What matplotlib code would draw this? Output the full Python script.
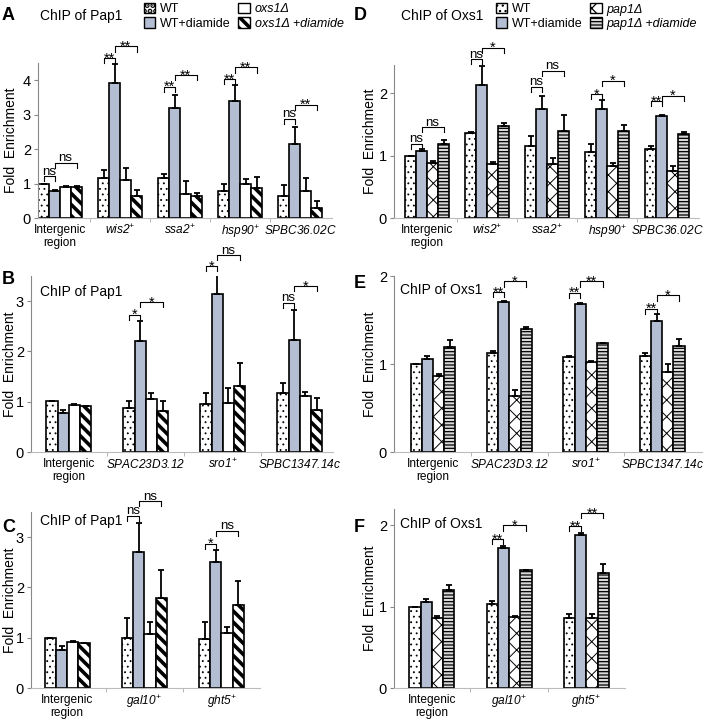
import numpy as np
import matplotlib
matplotlib.use('Agg')
import matplotlib.pyplot as plt
from matplotlib.patches import Patch

plt.rcParams['font.family'] = ['Liberation Sans', 'DejaVu Sans']
plt.rcParams['mathtext.fontset'] = 'custom'
plt.rcParams['mathtext.rm'] = 'Liberation Sans:italic'
plt.rcParams['mathtext.it'] = 'Liberation Sans:italic'
plt.rcParams['font.size'] = 9.5


def gene(name, plus=True):
    if plus:
        return r'$\mathit{' + name + r'}^{+}$'
    return r'$\mathit{' + name + r'}$'


# ---- panel A : ChIP of Pap1 ----
a_labels = ['Intergenic\nregion', gene('wis2'), gene('ssa2'), gene('hsp90'), gene('SPBC36.02C', False)]
a_wt = [1.0, 1.16, 1.16, 0.79, 0.64]
a_wt_err = [0.0, 0.22, 0.12, 0.21, 0.32]
a_wtd = [0.77, 3.91, 3.20, 3.41, 2.14]
a_wtd_err = [0.05, 0.56, 0.37, 0.44, 0.51]
a_mut = [0.90, 1.10, 0.69, 1.00, 0.79]
a_mut_err = [0.02, 0.36, 0.39, 0.13, 0.36]
a_mutd = [0.90, 0.64, 0.64, 0.88, 0.28]
a_mutd_err = [0.02, 0.18, 0.10, 0.30, 0.21]
a_sig = [(0, 0, 1, 1.21, 'ns'), (0, 1, 3, 1.60, 'ns'),
         (1, 0, 1, 4.64, '**'), (1, 1, 3, 4.98, '**'),
         (2, 0, 1, 3.81, '**'), (2, 1, 3, 4.15, '**'),
         (3, 0, 1, 4.03, '**'), (3, 1, 3, 4.37, '**'),
         (4, 0, 1, 2.88, 'ns'), (4, 1, 3, 3.29, '**')]

# ---- panel B : ChIP of Pap1 ----
b_labels = ['Intergenic\nregion', gene('SPAC23D3.12', False), gene('sro1'), gene('SPBC1347.14c', False)]
b_wt = [1.02, 0.87, 0.95, 1.18]
b_wt_err = [0.0, 0.15, 0.23, 0.20]
b_wtd = [0.77, 2.20, 3.15, 2.23]
b_wtd_err = [0.06, 0.40, 0.40, 0.60]
b_mut = [0.93, 1.05, 0.97, 1.11]
b_mut_err = [0.03, 0.13, 0.31, 0.09]
b_mutd = [0.92, 0.82, 1.31, 0.83]
b_mutd_err = [0.0, 0.20, 0.46, 0.24]
b_sig = [(1, 0, 1, 2.73, '*'), (1, 1, 3, 2.98, '*'),
         (2, 0, 1, 3.69, '*'), (2, 1, 3, 3.91, 'ns'),
         (3, 0, 1, 2.97, 'ns'), (3, 1, 3, 3.30, '*')]

# ---- panel C : ChIP of Pap1 ----
c_labels = ['Intergenic\nregion', gene('gal10'), gene('ght5')]
c_wt = [1.0, 1.0, 0.98]
c_wt_err = [0.0, 0.40, 0.34]
c_wtd = [0.76, 2.70, 2.50]
c_wtd_err = [0.08, 0.58, 0.25]
c_mut = [0.91, 1.07, 1.10]
c_mut_err = [0.03, 0.25, 0.12]
c_mutd = [0.90, 1.78, 1.65]
c_mutd_err = [0.0, 0.57, 0.48]
c_sig = [(1, 0, 1, 3.43, 'ns'), (1, 1, 3, 3.71, 'ns'),
         (2, 0, 1, 2.87, '*'), (2, 1, 3, 3.13, 'ns')]

# ---- panel D : ChIP of Oxs1 ----
d_labels = a_labels
d_wt = [1.0, 1.36, 1.15, 1.05, 1.11]
d_wt_err = [0.0, 0.01, 0.16, 0.13, 0.04]
d_wtd = [1.07, 2.13, 1.75, 1.75, 1.64]
d_wtd_err = [0.03, 0.30, 0.21, 0.14, 0.01]
d_mut = [0.88, 0.86, 0.87, 0.83, 0.75]
d_mut_err = [0.03, 0.03, 0.09, 0.05, 0.09]
d_mutd = [1.19, 1.48, 1.40, 1.39, 1.34]
d_mutd_err = [0.06, 0.04, 0.25, 0.10, 0.04]
d_sig = [(0, 0, 1, 1.19, 'ns'), (0, 1, 3, 1.45, 'ns'),
         (1, 0, 1, 2.54, 'ns'), (1, 1, 3, 2.73, '*'),
         (2, 0, 1, 2.10, 'ns'), (2, 1, 3, 2.36, 'ns'),
         (3, 0, 1, 1.98, '*'), (3, 1, 3, 2.20, '*'),
         (4, 0, 1, 1.87, '**'), (4, 1, 3, 1.96, '*')]

# ---- panel E : ChIP of Oxs1 ----
e_labels = b_labels
e_wt = [1.0, 1.12, 1.08, 1.09]
e_wt_err = [0.0, 0.03, 0.01, 0.04]
e_wtd = [1.06, 1.70, 1.68, 1.49]
e_wtd_err = [0.03, 0.02, 0.01, 0.08]
e_mut = [0.86, 0.64, 1.02, 0.91]
e_mut_err = [0.03, 0.06, 0.01, 0.09]
e_mutd = [1.19, 1.40, 1.24, 1.21]
e_mutd_err = [0.08, 0.02, 0.0, 0.07]
e_sig = [(1, 0, 1, 1.82, '**'), (1, 1, 3, 1.94, '*'),
         (2, 0, 1, 1.81, '**'), (2, 1, 3, 1.94, '**'),
         (3, 0, 1, 1.63, '**'), (3, 1, 3, 1.78, '*')]

# ---- panel F : ChIP of Oxs1 ----
f_labels = ['Integenic\nregion', gene('gal10'), gene('ght5')]
f_wt = [1.0, 1.03, 0.86]
f_wt_err = [0.0, 0.04, 0.05]
f_wtd = [1.06, 1.72, 1.88]
f_wtd_err = [0.04, 0.03, 0.02]
f_mut = [0.86, 0.87, 0.86]
f_mut_err = [0.03, 0.02, 0.05]
f_mutd = [1.20, 1.45, 1.41]
f_mutd_err = [0.07, 0.0, 0.12]
f_sig = [(1, 0, 1, 1.83, '**'), (1, 1, 3, 2.00, '*'),
         (2, 0, 1, 1.99, '**'), (2, 1, 3, 2.15, '**')]

# bar styles: (facecolor, hatch, hatch linewidth)
st_wt = ('white', '...', 0.6)
st_wtd = ('#b3bed3', '', 1.0)
st_oxs = ('white', '', 1.0)
st_oxsd = ('white', '\\\\\\', 2.6)
st_pap = ('white', 'xx', 0.7)
st_papd = ('#d8d8d8', '-----', 0.9)

W, H = 704, 727
fig = plt.figure(figsize=(W / 100, H / 100), dpi=100)


def px(x0, y0, x1, y1):
    return [x0 / W, 1 - y1 / H, (x1 - x0) / W, (y1 - y0) / H]


def panel(rect, labels, series, errs, styles, xlim, ylim, yticks, width, sig, tick_h, ylab_x):
    ax = fig.add_axes(rect)
    n = len(labels)
    x = np.arange(n)
    for k in range(4):
        fc, hatch, hlw = styles[k]
        plt.rcParams['hatch.linewidth'] = hlw
        xs = x + (k - 1.5) * width
        ax.bar(xs, series[k], width, color=fc, edgecolor='black', hatch=hatch,
               linewidth=1.2, zorder=2)
        ax.errorbar(xs, series[k], yerr=[np.zeros(n), errs[k]], fmt='none',
                    ecolor='black', elinewidth=1.3, capsize=2, capthick=1.3, zorder=3)
    for g, i, j, y, txt in sig:
        x1 = g + (i - 1.5) * width
        x2 = g + (j - 1.5) * width
        ax.plot([x1, x1, x2, x2], [y - tick_h, y, y, y - tick_h], color='black',
                lw=0.8, clip_on=False)
        if txt == 'ns':
            ax.annotate(txt, ((x1 + x2) / 2, y), xytext=(0, 1.2), textcoords='offset points',
                        ha='center', va='baseline', fontsize=9.5, annotation_clip=False)
        else:
            ax.annotate(txt, ((x1 + x2) / 2, y), xytext=(0, -3.2), textcoords='offset points',
                        ha='center', va='baseline', fontsize=10.5, annotation_clip=False)
    ax.set_xlim(*xlim)
    ax.set_ylim(*ylim)
    ax.set_yticks(yticks)
    ax.set_xticks(x)
    ax.set_xticklabels(labels, fontsize=8.6)
    ax.set_xticks(np.arange(n - 1) + 0.5, minor=True)
    ax.tick_params(axis='x', which='major', length=0, pad=4)
    ax.tick_params(axis='x', which='minor', length=3, color='#aaaaaa')
    ax.tick_params(axis='y', length=3, color='#888888', pad=2, labelsize=10.5)
    for s in ['top', 'right']:
        ax.spines[s].set_visible(False)
    ax.spines['left'].set_color('#888888')
    ax.spines['bottom'].set_color('#bbbbbb')
    ax.set_ylabel('Fold  Enrichment', fontsize=10)
    # place label so that its right edge sits at ylab_x pixels
    ax.yaxis.set_label_coords((ylab_x / W - rect[0]) / rect[2], 0.5)
    return ax


pap1_styles = [st_wt, st_wtd, st_oxs, st_oxsd]
oxs1_styles = [st_wt, st_wtd, st_pap, st_papd]

panel(px(38, 63, 332, 218), a_labels, [a_wt, a_wtd, a_mut, a_mutd],
      [a_wt_err, a_wtd_err, a_mut_err, a_mutd_err], pap1_styles,
      (-0.367, 4.53), (0, 4.5), [0, 1, 2, 3, 4], 0.183, a_sig, 0.15, 18)
panel(px(31, 276, 333, 452), b_labels, [b_wt, b_wtd, b_mut, b_mutd],
      [b_wt_err, b_wtd_err, b_mut_err, b_mutd_err], pap1_styles,
      (-0.49, 3.43), (0, 3.5), [0, 1, 2, 3], 0.146, b_sig, 0.1, 17)
panel(px(31, 512, 260, 688), c_labels, [c_wt, c_wtd, c_mut, c_mutd],
      [c_wt_err, c_wtd_err, c_mut_err, c_mutd_err], pap1_styles,
      (-0.47, 2.5), (0, 3.5), [0, 1, 2, 3], 0.146, c_sig, 0.1, 17)
panel(px(394, 65, 699, 218), d_labels, [d_wt, d_wtd, d_mut, d_mutd],
      [d_wt_err, d_wtd_err, d_mut_err, d_mutd_err], oxs1_styles,
      (-0.55, 4.53), (0, 2.45), [0, 1, 2], 0.183, d_sig, 0.08, 377)
panel(px(394, 276, 702, 452), e_labels, [e_wt, e_wtd, e_mut, e_mutd],
      [e_wt_err, e_wtd_err, e_mut_err, e_mutd_err], oxs1_styles,
      (-0.51, 3.52), (0, 2.0), [0, 1, 2], 0.147, e_sig, 0.06, 377)
panel(px(394, 509, 625, 688), f_labels, [f_wt, f_wtd, f_mut, f_mutd],
      [f_wt_err, f_wtd_err, f_mut_err, f_mutd_err], oxs1_styles,
      (-0.49, 2.5), (0, 2.2), [0, 1, 2], 0.146, f_sig, 0.065, 377)

# panel letters and titles
for letter, x0, y0 in [('A', 2, 16), ('B', 2, 280), ('C', 2, 528),
                       ('D', 354, 16), ('E', 354, 283), ('F', 354, 528)]:
    fig.text(x0 / W, 1 - y0 / H, letter, fontsize=13, fontweight='bold', va='center')
for title, x0, y0 in [('ChIP of Pap1', 40, 16), ('ChIP of Pap1', 40, 292), ('ChIP of Pap1', 40, 521),
                      ('ChIP of Oxs1', 401, 16), ('ChIP of Oxs1', 400, 290), ('ChIP of Oxs1', 400, 524)]:
    fig.text(x0 / W, 1 - y0 / H, title, fontsize=10, va='center')


# legends
def legend(styles, names, x0, y0):
    handles = []
    for fc, hatch, hlw in styles:
        plt.rcParams['hatch.linewidth'] = hlw
        handles.append(Patch(facecolor=fc, edgecolor='black', hatch=hatch, linewidth=1.0))
    leg = fig.legend(handles, names, ncol=2, loc='upper left', bbox_to_anchor=(x0 / W, 1 - y0 / H),
                     frameon=False, handlelength=0.9, handleheight=0.9, handletextpad=0.4,
                     columnspacing=0.6, labelspacing=0.15, borderpad=0, borderaxespad=0,
                     fontsize=9)
    for t in leg.get_texts()[2:]:
        t.set_style('italic')


legend(pap1_styles, ['WT', 'WT+diamide', 'oxs1Δ', 'oxs1Δ +diamide'], 144, 3)
legend(oxs1_styles, ['WT', 'WT+diamide', 'pap1Δ', 'pap1Δ +diamide'], 496, 3)

fig.savefig('out.png', dpi=100)
